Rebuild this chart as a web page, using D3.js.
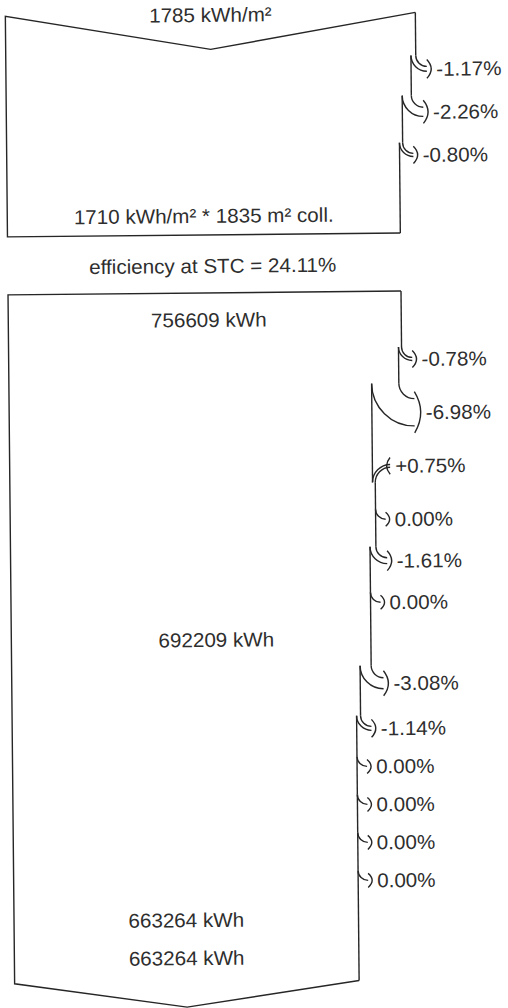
<!DOCTYPE html>
<html>
<head>
<meta charset="utf-8">
<script src="https://cdn.jsdelivr.net/npm/d3@7"></script>
<style>
  html, body { margin: 0; padding: 0; background: #fff; }
  text { font-family: "Liberation Sans", Arial, sans-serif; fill: #2e2e2e; }
</style>
</head>
<body>
<div id="chart"></div>
<script>
// Irradiance part (kWh/m²)
var globalIrrad = 1785;
var effIrrad = 1710;
var collArea = 1835;
var irradLosses = [-1.17, -2.26, -0.80];

var effSTC = 24.11;

// Energy part (kWh)
var nominalEnergy = 756609;
var mppEnergy = 692209;
var arrayEnergy = 663264;
var gridEnergy = 663264;
var arrayLosses = [-0.78, -6.98, 0.75, 0.00, -1.61, 0.00];
var systemLosses = [-3.08, -1.14, 0.00, 0.00, 0.00, 0.00];

// SVG area
var svgWidth = 508;
var svgHeight = 1008;
var left = 10;
var fontSize = 20;

var svg = d3.select("#chart")
  .append("svg")
  .attr("width", svgWidth)
  .attr("height", svgHeight);

// the scan is turned a little
var chartGroup = svg.append("g")
  .attr("transform", "rotate(-0.55, 200, 500)");

// rows of the diagram -> vertical position
var y = d3.scaleLinear()
  .domain([0, 1, 3, 4, 5, 6, 7, 10, 12, 13, 15, 21])
  .range([15, 71, 157, 216, 266, 320, 361, 521, 604, 640, 730, 958]);

// flow widths
var xIrrad = d3.scaleLinear().domain([0, globalIrrad]).range([0, 410]);
var xEnergy = d3.scaleLinear().domain([0, nominalEnergy]).range([0, 393]);

var lineColor = "#262626";

function hookDown(x1, y1, x2, y2) {
  var k = 0.55;
  return "M" + x1 + "," + y1 +
    "C" + x1 + "," + (y1 + k * (y2 - y1)) + " " +
    (x2 - k * (x2 - x1)) + "," + y2 + " " + x2 + "," + y2;
}

function hookIn(x1, y1, x2, y2) {
  // from arrow head (x1,y1) going left then down to the edge (x2,y2)
  var k = 0.55;
  return "M" + x1 + "," + y1 +
    "C" + (x1 - k * (x1 - x2)) + "," + y1 + " " +
    x2 + "," + (y2 - k * (y2 - y1)) + " " + x2 + "," + y2;
}

function pctLabel(v) {
  if (v > 0) return "+" + v.toFixed(2) + "%";
  if (v < 0) return "-" + Math.abs(v).toFixed(2) + "%";
  return "0.00%";
}

function addText(x, yc, str, anchor) {
  chartGroup.append("text")
    .attr("transform", "translate(" + x + "," + (yc + 7) + ") scale(1.03,1)")
    .attr("text-anchor", anchor || "middle")
    .attr("font-size", fontSize)
    .text(str);
}

function line(d) {
  chartGroup.append("path")
    .attr("d", d)
    .attr("fill", "none")
    .attr("stroke", lineColor)
    .attr("stroke-width", 1.4);
}

// draws the right edge with the loss arrows, returns the end x
function drawFlow(x, start, rows, yTop, yBottom) {
  var value = start;
  var xr = left + x(value);
  var segStart = yTop;
  rows.forEach(function(r) {
    var yc = y(r.slot);
    var w = x(value * Math.abs(r.pct) / 100);
    if (r.pct <= 0) {
      var d = 10 + 0.2 * w;
      var xe = xr + d;
      var y0 = yc - w / 2 - d;
      var b = 4 + 0.08 * w;
      line("M" + xr + "," + segStart + "L" + xr + "," + y0);
      line(hookDown(xr, y0, xe, yc - w / 2));
      if (w > 0) line(hookDown(xr - w, y0, xe, yc + w / 2));
      line("M" + xe + "," + (yc - w / 2 - 7) + "Q" + (xe + 2 * b) + "," + yc + " " + xe + "," + (yc + w / 2 + 7));
      addText(xe + b + 5, yc, pctLabel(r.pct), "start");
      xr = xr - w;
      segStart = y0;
    } else {
      var xn = xr + w;
      var xe = xn + 15;
      var yOld = yc - w / 2 + (xe - xr);
      var yNew = yc + w / 2 + (xe - xn);
      line("M" + xr + "," + segStart + "L" + xr + "," + yOld);
      line(hookIn(xe, yc - w / 2, xr, yOld));
      line(hookIn(xe, yc + w / 2, xn, yNew));
      line("M" + xe + "," + (yc - w / 2 - 7) + "Q" + (xe - 7) + "," + yc + " " + xe + "," + (yc + w / 2 + 7));
      addText(xe + 5, yc, pctLabel(r.pct), "start");
      xr = xn;
      segStart = yNew;
    }
    value = value * (1 + r.pct / 100);
  });
  line("M" + xr + "," + segStart + "L" + xr + "," + yBottom);
  return xr;
}

// ---- irradiance box ----
var topY = y(0) - 0.5;
var topBottom = y(4) + 19;
var topRows = irradLosses.map(function(p, i) { return { pct: p, slot: 1 + i }; });
var topEnd = drawFlow(xIrrad, globalIrrad, topRows, topY, topBottom);
var topStart = left + xIrrad(globalIrrad);

line("M" + topEnd + "," + topBottom + "L" + left + "," + topBottom +
  "L" + left + "," + topY + "L" + (left + topStart) / 2 + "," + (topY + 35) +
  "L" + topStart + "," + topY);

addText((left + topStart) / 2, y(0), globalIrrad + " kWh/m²");
addText((left + topEnd) / 2, y(4), effIrrad + " kWh/m² * " + collArea + " m² coll.");
addText((left + topStart) / 2, y(5), "efficiency at STC = " + effSTC.toFixed(2) + "%");

// ---- energy box ----
var lowTop = y(6) - 27;
var lowBottom = y(21) + 24;
var lowRows = arrayLosses.map(function(p, i) { return { pct: p, slot: 7 + i }; })
  .concat(systemLosses.map(function(p, i) { return { pct: p, slot: 14 + i }; }));
var lowEnd = drawFlow(xEnergy, nominalEnergy, lowRows, lowTop, lowBottom);
var lowStart = left + xEnergy(nominalEnergy);

line("M" + lowStart + "," + lowTop + "L" + left + "," + lowTop +
  "L" + left + "," + lowBottom + "L" + (left + lowEnd) / 2 + "," + (lowBottom + 25) +
  "L" + lowEnd + "," + lowBottom);

addText((left + lowStart) / 2 + 4, y(6), nominalEnergy + " kWh");
addText((left + topStart) / 2, y(13), mppEnergy + " kWh");
addText((left + lowEnd) / 2, y(20), arrayEnergy + " kWh");
addText((left + lowEnd) / 2, y(21), gridEnergy + " kWh");
</script>
</body>
</html>
